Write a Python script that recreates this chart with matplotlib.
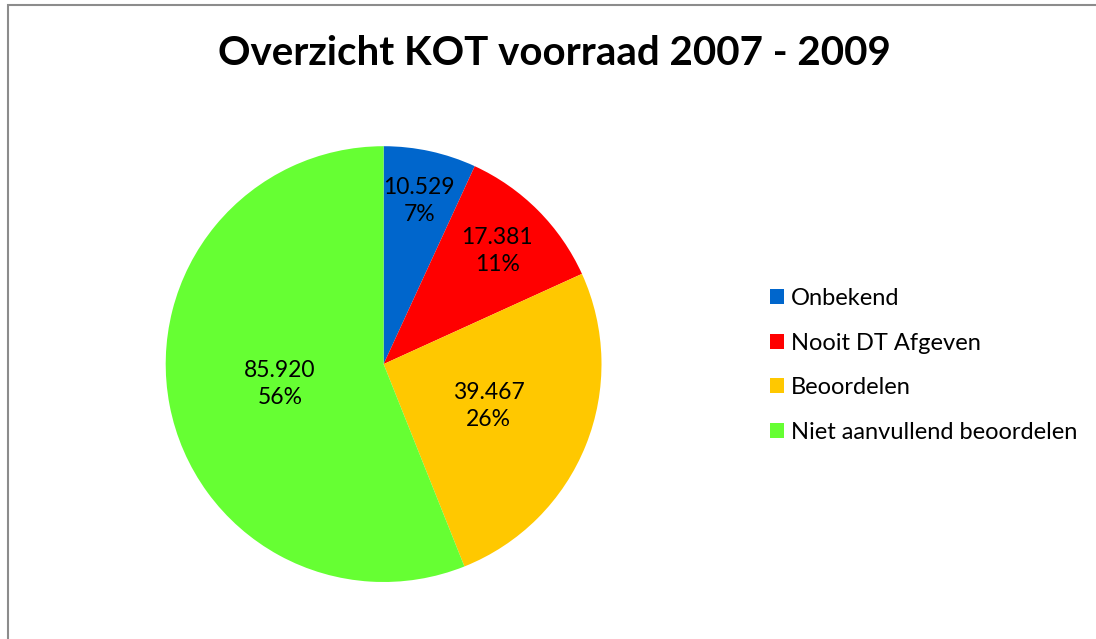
import numpy as np
import matplotlib
matplotlib.use("Agg")
import matplotlib.pyplot as plt
from matplotlib.patches import Rectangle

# data
categories = ["Onbekend", "Nooit DT Afgeven", "Beoordelen", "Niet aanvullend beoordelen"]
values = [10529, 17381, 39467, 85920]
colors = ["#0066CC", "#FF0000", "#FFC800", "#66FF33"]
label_frac = [0.765, 0.735, 0.52, 0.485]   # radial position of data labels

plt.rcParams["font.family"] = ["Lato", "DejaVu Sans"]

fig = plt.figure(figsize=(10.96, 6.39), dpi=100)
ax = fig.add_axes([0.151, 0.0892, 0.398, 0.682])

wedges, _ = ax.pie(values, colors=colors, startangle=90, counterclock=False,
                   radius=1, wedgeprops=dict(linewidth=0))
ax.set_xlim(-1, 1); ax.set_ylim(-1, 1); ax.set_aspect("equal"); ax.axis("off")

total = sum(values)
for w, v, f in zip(wedges, values, label_frac):
    ang = np.deg2rad((w.theta1 + w.theta2) / 2)
    txt = f"{v:,}".replace(",", ".") + f"\n{round(100 * v / total)}%"
    ax.text(f * np.cos(ang), f * np.sin(ang), txt, ha="center", va="center",
            fontsize=16.5, linespacing=1.35, color="black")

fig.text(0.506, 0.916, "Overzicht KOT voorraad 2007 - 2009", ha="center", va="center",
         fontsize=29, fontweight="bold")

fig.legend(wedges, categories, loc="center left", bbox_to_anchor=(0.7026, 0.428),
           frameon=False, fontsize=17, handlelength=0.6, handleheight=0.6,
           handletextpad=0.3, labelspacing=1.0, borderpad=0, borderaxespad=0)

fig.patches.append(Rectangle((7.5 / 1096, -0.1), 1.2, 1.1 - 5 / 639, transform=fig.transFigure,
                             fill=False, edgecolor="#8c8c8c", linewidth=1.5))

fig.savefig("out.png", dpi=100)
